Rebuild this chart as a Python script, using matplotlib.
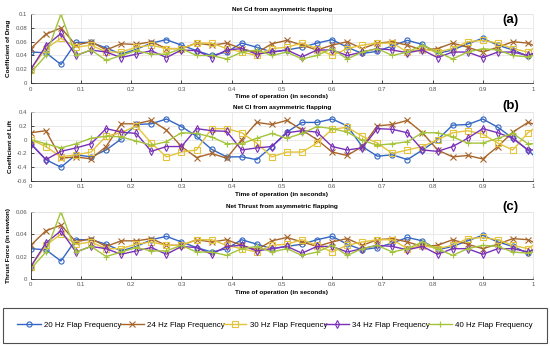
"""Net Cd / Cl / thrust from asymmetric flapping, three stacked panels with a shared legend."""
import matplotlib
matplotlib.use("Agg")
import matplotlib.pyplot as plt

plt.rcParams["font.family"] = ["Liberation Sans", "DejaVu Sans"]

# time of operation (s), one sample per marker
T = [0.00, 0.03, 0.06, 0.09, 0.12, 0.15, 0.18, 0.21, 0.24, 0.27, 0.30, 0.33,
     0.36, 0.39, 0.42, 0.45, 0.48, 0.51, 0.54, 0.57, 0.60, 0.63, 0.66, 0.69,
     0.72, 0.75, 0.78, 0.81, 0.84, 0.87, 0.90, 0.93, 0.96, 0.99, 1.00]

FREQ_LABELS = ["20 Hz Flap Frequency", "24 Hz Flap Frequency", "30 Hz Flap Frequency",
               "34 Hz Flap Frequency", "40 Hz Flap Frequency"]

# (a) coefficient of drag
CD_20 = [0.045, 0.044, 0.027, 0.059, 0.059, 0.051, 0.042, 0.049, 0.058, 0.063, 0.055, 0.047,
         0.040, 0.045, 0.058, 0.052, 0.045, 0.048, 0.052, 0.058, 0.063, 0.052, 0.043, 0.046,
         0.054, 0.062, 0.056, 0.043, 0.048, 0.057, 0.065, 0.055, 0.048, 0.039, 0.042]
CD_24 = [0.050, 0.071, 0.080, 0.055, 0.060, 0.048, 0.057, 0.056, 0.060, 0.050, 0.050, 0.058,
         0.055, 0.058, 0.050, 0.044, 0.057, 0.062, 0.055, 0.048, 0.055, 0.060, 0.050, 0.058,
         0.060, 0.055, 0.048, 0.050, 0.058, 0.052, 0.045, 0.052, 0.060, 0.058, 0.055]
CD_30 = [0.020, 0.050, 0.065, 0.052, 0.055, 0.045, 0.045, 0.052, 0.055, 0.050, 0.050, 0.058,
         0.058, 0.050, 0.045, 0.040, 0.050, 0.052, 0.058, 0.050, 0.040, 0.050, 0.055, 0.058,
         0.058, 0.045, 0.050, 0.045, 0.050, 0.060, 0.062, 0.058, 0.050, 0.045, 0.050]
CD_34 = [0.020, 0.054, 0.072, 0.040, 0.048, 0.045, 0.037, 0.042, 0.047, 0.037, 0.048, 0.047,
         0.037, 0.048, 0.050, 0.042, 0.045, 0.048, 0.038, 0.048, 0.048, 0.040, 0.045, 0.050,
         0.048, 0.044, 0.048, 0.037, 0.045, 0.045, 0.037, 0.045, 0.045, 0.040, 0.043]
CD_40 = [0.015, 0.040, 0.100, 0.040, 0.048, 0.033, 0.040, 0.047, 0.042, 0.042, 0.050, 0.040,
         0.040, 0.035, 0.045, 0.048, 0.040, 0.045, 0.035, 0.040, 0.050, 0.035, 0.045, 0.050,
         0.040, 0.045, 0.055, 0.045, 0.035, 0.045, 0.050, 0.048, 0.040, 0.038, 0.040]

# (b) coefficient of lift
CL_20 = [-0.06, -0.29, -0.40, -0.22, -0.25, -0.15, 0.01, 0.22, 0.23, 0.30, 0.19, 0.05,
         -0.14, -0.25, -0.25, -0.29, -0.10, 0.11, 0.25, 0.25, 0.30, 0.20, -0.10, -0.24,
         -0.22, -0.29, -0.15, 0.00, 0.21, 0.22, 0.30, 0.18, 0.02, -0.15, -0.22]
CL_24 = [0.10, 0.13, -0.27, -0.25, -0.28, -0.10, 0.23, 0.23, 0.28, 0.14, -0.10, -0.26,
         -0.20, -0.27, 0.00, 0.25, 0.22, 0.28, 0.14, 0.00, -0.18, -0.23, -0.10, 0.20,
         0.22, 0.28, 0.10, -0.15, -0.25, -0.23, -0.28, -0.10, 0.11, 0.25, 0.23]
CL_30 = [0.00, -0.10, -0.25, -0.22, -0.18, 0.05, 0.10, 0.20, -0.05, -0.25, -0.18, -0.15,
         0.16, 0.16, 0.10, -0.05, -0.25, -0.18, -0.18, -0.05, 0.15, 0.18, 0.05, -0.05,
         -0.20, -0.15, -0.10, 0.00, 0.10, 0.13, 0.08, -0.05, -0.15, 0.10, 0.15]
CL_34 = [-0.06, -0.29, -0.17, -0.12, -0.06, 0.16, 0.11, 0.09, -0.17, -0.10, -0.10, 0.16,
         0.13, 0.12, -0.15, -0.12, -0.10, 0.10, 0.13, 0.11, -0.10, -0.15, -0.12, 0.16,
         0.15, 0.10, -0.15, -0.17, -0.10, 0.02, 0.16, 0.10, 0.02, -0.15, -0.15]
CL_40 = [0.00, -0.06, -0.12, -0.06, 0.02, 0.05, 0.04, -0.02, -0.08, -0.03, 0.10, 0.09,
         0.04, -0.06, -0.06, 0.02, 0.09, 0.02, 0.09, 0.19, 0.16, 0.11, -0.01, -0.08,
         -0.06, -0.03, 0.10, 0.10, 0.04, -0.05, -0.05, 0.02, 0.09, -0.06, -0.06]

# (c) thrust force (N)
TH_20 = [0.027, 0.026, 0.016, 0.035, 0.035, 0.031, 0.025, 0.029, 0.035, 0.038, 0.033, 0.028,
         0.024, 0.027, 0.035, 0.031, 0.027, 0.029, 0.031, 0.035, 0.038, 0.031, 0.026, 0.028,
         0.032, 0.037, 0.034, 0.026, 0.029, 0.034, 0.039, 0.033, 0.029, 0.023, 0.025]
TH_24 = [0.030, 0.043, 0.048, 0.033, 0.036, 0.029, 0.034, 0.034, 0.036, 0.030, 0.030, 0.035,
         0.033, 0.035, 0.030, 0.026, 0.034, 0.037, 0.033, 0.029, 0.033, 0.036, 0.030, 0.035,
         0.036, 0.033, 0.029, 0.030, 0.035, 0.031, 0.027, 0.031, 0.036, 0.035, 0.033]
TH_30 = [0.011, 0.030, 0.040, 0.031, 0.033, 0.027, 0.027, 0.031, 0.033, 0.030, 0.030, 0.035,
         0.035, 0.030, 0.027, 0.024, 0.030, 0.031, 0.035, 0.030, 0.024, 0.030, 0.033, 0.035,
         0.035, 0.027, 0.030, 0.027, 0.030, 0.036, 0.037, 0.035, 0.030, 0.027, 0.030]
TH_34 = [0.011, 0.032, 0.043, 0.024, 0.029, 0.027, 0.022, 0.025, 0.028, 0.022, 0.029, 0.028,
         0.022, 0.029, 0.030, 0.025, 0.027, 0.029, 0.023, 0.029, 0.029, 0.024, 0.027, 0.030,
         0.029, 0.026, 0.029, 0.022, 0.027, 0.027, 0.022, 0.027, 0.027, 0.024, 0.026]
TH_40 = [0.009, 0.024, 0.060, 0.024, 0.029, 0.020, 0.024, 0.028, 0.025, 0.025, 0.030, 0.024,
         0.024, 0.021, 0.027, 0.029, 0.024, 0.027, 0.021, 0.024, 0.030, 0.021, 0.027, 0.030,
         0.024, 0.027, 0.033, 0.027, 0.021, 0.027, 0.030, 0.029, 0.024, 0.023, 0.024]

X_TICKS = [0, 0.1, 0.2, 0.3, 0.4, 0.5, 0.6, 0.7, 0.8, 0.9, 1]
X_TICK_LABELS = ["0", "0.1", "0.2", "0.3", "0.4", "0.5", "0.6", "0.7", "0.8", "0.9", "1"]

# (series, title, ylabel, ylim, yticks, yticklabels, panel tag)
PANELS = [
    ([CD_20, CD_24, CD_30, CD_34, CD_40], "Net Cd from asymmetric flapping",
     "Coefficient of Drag", (0, 0.1), [0, 0.02, 0.04, 0.06, 0.08, 0.1],
     ["0", "0.02", "0.04", "0.06", "0.08", "0.1"], "(a)"),
    ([CL_20, CL_24, CL_30, CL_34, CL_40], "Net Cl from asymmetric flapping",
     "Coefficient of Lift", (-0.6, 0.4), [-0.6, -0.4, -0.2, 0, 0.2, 0.4],
     ["-0.6", "-0.4", "-0.2", "0", "0.2", "0.4"], "(b)"),
    ([TH_20, TH_24, TH_30, TH_34, TH_40], "Net Thrust from asymmetric flapping",
     "Thrust Force (in newton)", (0, 0.06), [0, 0.02, 0.04, 0.06],
     ["0", "0.02", "0.04", "0.06"], "(c)"),
]

COLORS = ["#3366c4", "#a8652a", "#e3c43c", "#7a30b8", "#a3c43b"]
MARKERS = ["o", "x", "s", "d", "+"]

# axes boxes in figure fractions (left, bottom, width, height)
AX_RECTS = [
    (0.056, 0.760, 0.913, 0.199),
    (0.056, 0.477, 0.913, 0.199),
    (0.056, 0.194, 0.913, 0.194),
]
TAG_POS = [(0.928, 0.942), (0.928, 0.694), (0.928, 0.402)]


def _style_axis(ax) -> None:
    """MATLAB-like: grid on, dark left/bottom axis lines, grey tick labels."""
    ax.grid(True, color="#e2e2e2", linewidth=0.5)
    ax.set_axisbelow(True)
    for side in ("top", "right"):
        ax.spines[side].set_color("#e2e2e2")
        ax.spines[side].set_linewidth(0.5)
    for side in ("left", "bottom"):
        ax.spines[side].set_color("#333333")
        ax.spines[side].set_linewidth(0.6)
    ax.tick_params(axis="both", direction="in", length=2, width=0.5,
                   labelsize=4.3, labelcolor="#555555", pad=2.5,
                   top=False, right=False)


def main() -> None:
    fig = plt.figure(figsize=(5.5, 3.46), dpi=100)
    handles = []
    for rect, tag_xy, (series, title, ylabel, ylim, yticks, ylabels, tag) in zip(
            AX_RECTS, TAG_POS, PANELS):
        ax = fig.add_axes(rect)
        for vals, color, marker in zip(series, COLORS, MARKERS):
            (ln,) = ax.plot(T, vals, color=color, linewidth=1.0, marker=marker,
                            markersize=3.7, markerfacecolor="none",
                            markeredgewidth=0.8, markevery=list(range(len(T) - 1)))
            if tag == "(a)":
                handles.append(ln)
        ax.set_xlim(0, 1)
        ax.set_ylim(*ylim)
        ax.set_xticks(X_TICKS)
        ax.set_xticklabels(X_TICK_LABELS)
        ax.set_yticks(yticks)
        ax.set_yticklabels(ylabels)
        _style_axis(ax)
        ax.set_title(title, fontsize=4.6, fontweight="bold", pad=2.5)
        ax.set_ylabel(ylabel, fontsize=4.6, fontweight="bold", labelpad=3)
        ax.set_xlabel("Time of operation (in seconds)", fontsize=4.6,
                      fontweight="bold", labelpad=2)
        fig.text(tag_xy[0], tag_xy[1], tag, fontsize=9.5, fontweight="bold",
                 ha="center", va="center")

    leg = fig.legend(handles, FREQ_LABELS, loc="lower left",
                     bbox_to_anchor=(0.006, 0.009, 0.988, 0.101), mode="expand",
                     ncol=5, fontsize=5.7, frameon=True, fancybox=False,
                     handlelength=3.0, handletextpad=0.4, borderaxespad=0.0,
                     borderpad=1.75)
    leg.get_frame().set_edgecolor("#222222")
    leg.get_frame().set_linewidth(0.8)

    fig.savefig("out.png", dpi=100)
    plt.close(fig)


if __name__ == "__main__":
    main()
